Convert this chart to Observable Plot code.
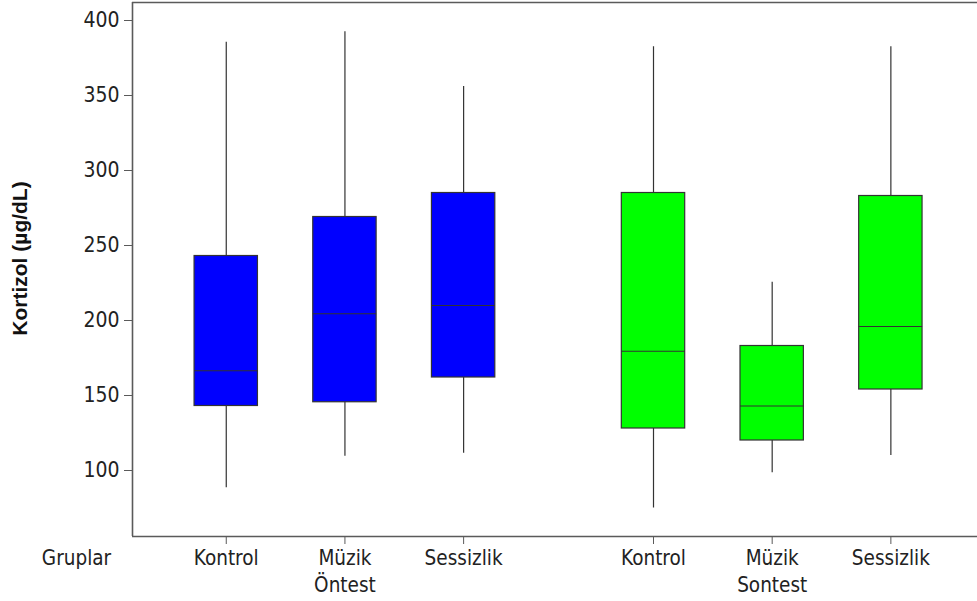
<!DOCTYPE html>
<html>
<head>
<meta charset="utf-8">
<script src="https://cdn.jsdelivr.net/npm/d3@7"></script>
<script src="https://cdn.jsdelivr.net/npm/@observablehq/plot@0.6"></script>
<style>
  html, body { margin: 0; padding: 0; background: #fff; }
  svg { display: block; }
</style>
</head>
<body>
<div id="chart"></div>
<script>
// Data
const groups  = ["Kontrol", "Müzik", "Sessizlik", "Kontrol", "Müzik", "Sessizlik"];
const phases  = ["Öntest", "Öntest", "Öntest", "Sontest", "Sontest", "Sontest"];
const lowW    = [88.5, 109.5, 111.5, 75, 98.5, 110];
const q1      = [143, 145.5, 162, 128, 120, 154];
const median  = [166.5, 204.5, 210, 179.5, 143, 196];
const q3      = [243, 269, 285, 285, 183, 283];
const highW   = [385.5, 392.5, 356, 382.5, 225.5, 382.5];
const yTicks  = [100, 150, 200, 250, 300, 350, 400];

// Layout helpers (not data)
const phaseColor = {"Öntest": "#0000ff", "Sontest": "#00ff00"};
const phaseList = ["Öntest", "Sontest"];
const groupOrder = ["Kontrol", "Müzik", "Sessizlik"];
const pos = i => groupOrder.indexOf(groups[i]) + phaseList.indexOf(phases[i]) * 3.6;
const half = 0.267;

const rows = groups.map((g, i) => ({
  i, group: g, phase: phases[i], x: pos(i),
  low: lowW[i], q1: q1[i], med: median[i], q3: q3[i], high: highW[i]
}));

const xDomain = [-0.79, 6.33];
const yDomain = [56, 412];
const tickPos = rows.map(d => d.x);
const tickLabel = new Map(rows.map(d => [d.x, d.group === "Müzik" ? d.group + "\n" + d.phase : d.group]));

const axisColor = "#5a5a5a";
const font = "'DejaVu Sans Condensed', 'DejaVu Sans', sans-serif";

const chart = Plot.plot({
  width: 977,
  height: 601,
  marginLeft: 132,
  marginRight: 0,
  marginTop: 2,
  marginBottom: 65,
  style: {fontFamily: font, background: "#fff", color: "#222"},
  x: {type: "linear", domain: xDomain, axis: null},
  y: {domain: yDomain, axis: null},
  marks: [
    // frame lines (left, top, bottom)
    Plot.ruleX([xDomain[0]], {stroke: axisColor, strokeWidth: 1.6}),
    Plot.ruleY([yDomain[0], yDomain[1]], {stroke: axisColor, strokeWidth: 1.6}),
    // y axis
    Plot.axisY({
      ticks: yTicks, tickSize: 8, tickPadding: 5, stroke: axisColor,
      fontSize: 21, fill: "#222", label: null
    }),
    // x axis
    Plot.axisX({
      ticks: tickPos, tickSize: 8, tickPadding: 2, stroke: axisColor,
      fontSize: 20.5, fill: "#222", label: null, lineHeight: 1.3,
      tickFormat: v => tickLabel.get(v)
    }),
    // whiskers
    Plot.ruleX(rows, {x: "x", y1: "low", y2: "high", stroke: "#333", strokeWidth: 1.2}),
    // boxes
    Plot.rect(rows, {
      x1: d => d.x - half, x2: d => d.x + half, y1: "q1", y2: "q3",
      fill: d => phaseColor[d.phase], stroke: "#333", strokeWidth: 1.2
    }),
    // medians
    Plot.ruleY(rows, {
      y: "med", x1: d => d.x - half, x2: d => d.x + half, stroke: "#333", strokeWidth: 1.2
    }),
    // "Gruplar" label
    Plot.text(["Gruplar"], {
      frameAnchor: "bottom-left", dx: -56, dy: 22, fontSize: 20.5, fill: "#222",
      textAnchor: "middle", lineAnchor: "middle"
    }),
    // y label
    Plot.text(["Kortizol (µg/dL)"], {
      frameAnchor: "left", dx: -112, dy: -11, rotate: -90,
      textAnchor: "middle", lineAnchor: "middle",
      fontSize: 21, fontWeight: "bold", fill: "#111",
      fontFamily: "'Liberation Sans', Arial, sans-serif"
    })
  ]
});

document.getElementById("chart").appendChild(chart);
</script>
</body>
</html>
